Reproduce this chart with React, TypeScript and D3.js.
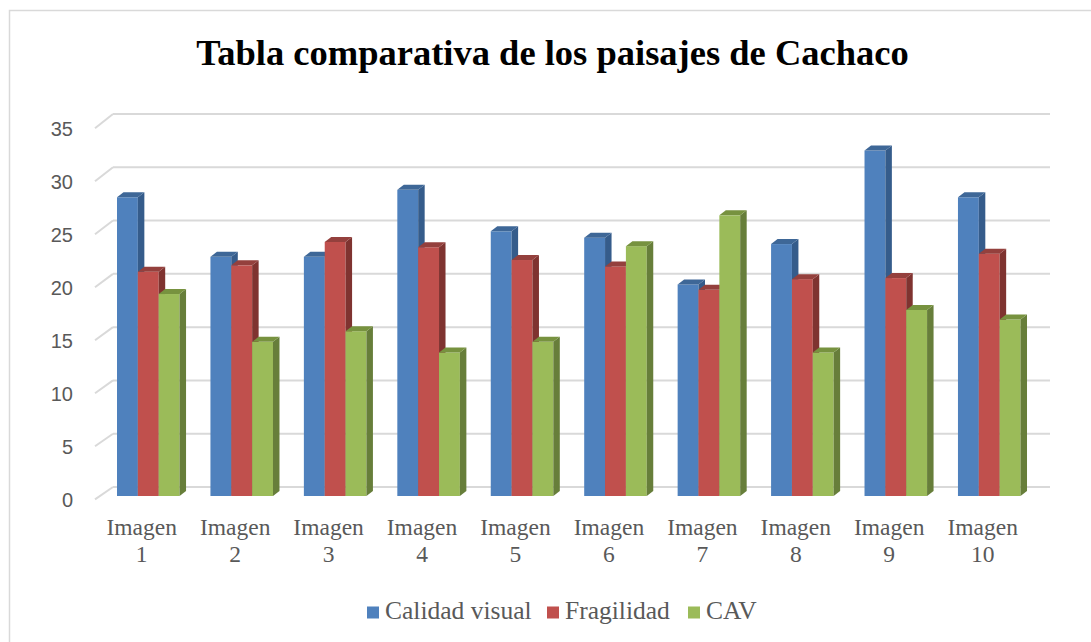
import React from "react";
import * as d3 from "d3";

const categories = ["Imagen 1", "Imagen 2", "Imagen 3", "Imagen 4", "Imagen 5", "Imagen 6", "Imagen 7", "Imagen 8", "Imagen 9", "Imagen 10"];
const seriesNames = ["Calidad visual", "Fragilidad", "CAV"];
const calidadVisual = [28.1, 22.5, 22.5, 28.8, 24.9, 24.3, 19.9, 23.7, 32.5, 28.1];
const fragilidad = [21.1, 21.7, 23.9, 23.4, 22.2, 21.6, 19.4, 20.4, 20.5, 22.8];
const cav = [19.0, 14.5, 15.5, 13.5, 14.5, 23.5, 26.4, 13.5, 17.5, 16.6];
const yTicks = [0, 5, 10, 15, 20, 25, 30, 35];

const seriesValues = [calidadVisual, fragilidad, cav];
const fronts = ["#4F81BD", "#C0504D", "#9BBB59"];
const sides = ["#355C8B", "#7F3330", "#677E3A"];
const tops = ["#3E6797", "#94403D", "#77923F"];

const W = 1091;
const H = 642;

export default function App() {
  const x = d3.scaleBand<string>().domain(categories).range([95, 95 + 93.44 * 10]).padding(0);
  const inner = d3.scaleBand<string>().domain(seriesNames).range([22, 22 + 3 * 20.85]).padding(0);
  const yBar = d3.scaleLinear().domain([0, 35]).range([496, 496 - 35 * 10.63]);
  const yBack = d3.scaleLinear().domain([0, 35]).range([487, 114]);
  const yFront = d3.scaleLinear().domain([0, 35]).range([499.3, 128.3]);
  const dx = 6.5;
  const dy = 5;
  const backLeft = 113;
  const backRight = 1050;
  const frontLeft = 95;
  const base = yBar(0);
  const serif = "'Liberation Serif', 'Times New Roman', serif";
  const sans = "'Liberation Sans', Arial, sans-serif";
  const legendX = [367, 547, 688];

  return (
    <svg width={W} height={H} style={{ position: "fixed", left: 0, top: 0, background: "#fff" }}>
      <rect x={0} y={0} width={W} height={H} fill="#fff" />
      <rect x={9.5} y={10.5} width={1200} height={800} fill="none" stroke="#d9d9d9" strokeWidth={1.5} />
      <text x={552.5} y={64.5} textAnchor="middle" fontFamily={serif} fontWeight="bold" fontSize={36.5} fill="#000">
        Tabla comparativa de los paisajes de Cachaco
      </text>
      {yTicks.map((t) => (
        <g key={t}>
          <line x1={backLeft} x2={backRight} y1={yBack(t)} y2={yBack(t)} stroke="#d9d9d9" strokeWidth={2} />
          <line x1={frontLeft} x2={backLeft} y1={yFront(t)} y2={yBack(t)} stroke="#d9d9d9" strokeWidth={2} />
          <text x={73} y={yFront(t)} dy="0.36em" textAnchor="end" fontFamily={sans} fontSize={20} fill="#595959">
            {t}
          </text>
        </g>
      ))}
      {categories.map((c, ci) => (
        <g key={c}>
          {seriesNames.map((s, si) => {
            const v = seriesValues[si][ci];
            const x0 = (x(c) as number) + (inner(s) as number);
            const w = inner.bandwidth();
            const yt = yBar(v);
            return (
              <g key={s}>
                <rect x={x0} y={yt} width={w} height={base - yt} fill={fronts[si]} />
                <polygon
                  points={`${x0 + w},${yt} ${x0 + w + dx},${yt - dy} ${x0 + w + dx},${base - dy} ${x0 + w},${base}`}
                  fill={sides[si]}
                />
                <polygon
                  points={`${x0},${yt} ${x0 + dx},${yt - dy} ${x0 + w + dx},${yt - dy} ${x0 + w},${yt}`}
                  fill={tops[si]}
                />
              </g>
            );
          })}
          <text textAnchor="middle" fontFamily={serif} fontSize={23.5} fill="#595959">
            <tspan x={(x(c) as number) + x.bandwidth() / 2} y={535}>
              {c.split(" ")[0]}
            </tspan>
            <tspan x={(x(c) as number) + x.bandwidth() / 2} y={562}>
              {c.split(" ")[1]}
            </tspan>
          </text>
        </g>
      ))}
      {seriesNames.map((s, si) => (
        <g key={s}>
          <rect x={legendX[si]} y={606.5} width={12} height={12} fill={fronts[si]} />
          <text x={legendX[si] + 18} y={619.3} fontFamily={serif} fontSize={25.5} fill="#595959">
            {s}
          </text>
        </g>
      ))}
    </svg>
  );
}
